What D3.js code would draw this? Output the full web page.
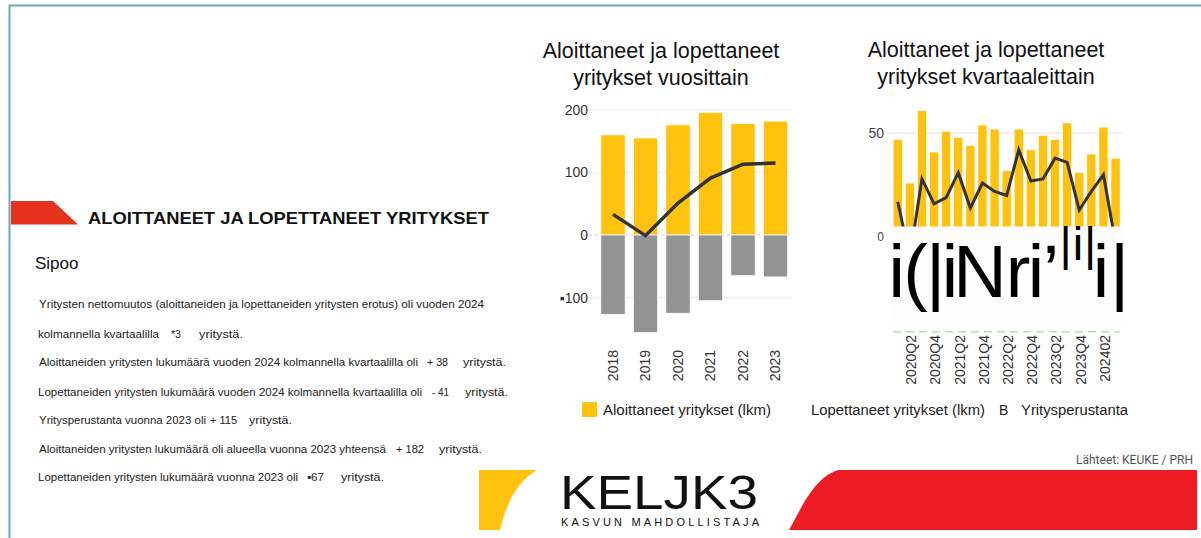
<!DOCTYPE html>
<html>
<head>
<meta charset="utf-8">
<script src="https://cdn.jsdelivr.net/npm/d3@7"></script>
<style>
  body { margin: 0; background: #fff; }
  svg { display: block; font-family: "Liberation Sans", Arial, "DejaVu Sans", sans-serif; }
</style>
</head>
<body>
<svg id="chart" width="1201" height="538"></svg>
<script>
// yearly data (Sipoo)
const years = ["2018", "2019", "2020", "2021", "2022", "2023"]
const yearStarted = [160, 155, 176, 196, 178, 182]
const yearClosed = [-127, -156, -125, -105, -65, -67]
const yearNet = [33, -1, 51, 91, 113, 115]
const yearTicks = [-100, 0, 100, 200]
const yearTickLabels = ["▪100", "0", "100", "200"]

// quarterly data
const quarters = ["2020Q1", "2020Q2", "2020Q3", "2020Q4", "2021Q1", "2021Q2", "2021Q3", "2021Q4",
  "2022Q1", "2022Q2", "2022Q3", "2022Q4", "2023Q1", "2023Q2", "2023Q3", "2023Q4",
  "2024Q1", "2024Q2", "2024Q3"]
const quarterStarted = [47, 26, 61, 41, 51, 48, 44, 54, 52, 32, 52, 42, 49, 47, 55, 31, 40, 53, 38]
const quarterNet = [17, -10, 28, 16, 19, 31, 14, 26, 22, 20, 42, 27, 28, 38, 36, 13, 22, 30, -3]
const quarterTicks = [0, 50]
const quarterTickAt = ["2020Q2", "2020Q4", "2021Q2", "2021Q4", "2022Q2", "2022Q4", "2023Q2", "2023Q4", "2024Q2"]
const quarterTickLabels = ["2020Q2", "2020Q4", "2021Q2", "2021Q4", "2022Q2", "2022Q4", "2023Q2", "2023Q4", "202402"]

const legendLabels = ["Aloittaneet yritykset (lkm)", "Lopettaneet yritykset (lkm)", "B", "Yritysperustanta"]

// summary text on the left: [text, x, width]
const summaryLines = [
  { y: 308, parts: [["Yritysten nettomuutos (aloittaneiden ja lopettaneiden yritysten erotus) oli vuoden 2024", 39, 445]] },
  { y: 337.5, parts: [["kolmannella kvartaalilla", 38, 121], ["*3", 171, 10], ["yritystä.", 199, 44]] },
  { y: 365.5, parts: [["Aloittaneiden yritysten lukumäärä vuoden 2024 kolmannella kvartaalilla oli", 39, 379], ["+ 38", 427, 21], ["yritystä.", 463, 43]] },
  { y: 395.5, parts: [["Lopettaneiden yritysten lukumäärä vuoden 2024 kolmannella kvartaalilla oli", 38, 384], ["- 41", 432, 17], ["yritystä.", 465, 43]] },
  { y: 424, parts: [["Yritysperustanta vuonna 2023 oli", 39, 167], ["+ 115", 210, 27], ["yritystä.", 249, 43]] },
  { y: 453, parts: [["Aloittaneiden yritysten lukumäärä oli alueella vuonna 2023 yhteensä", 39, 347], ["+ 182", 396, 28], ["yritystä.", 439, 43]] },
  { y: 481, parts: [["Lopettaneiden yritysten lukumäärä vuonna 2023 oli", 38, 260], ["▪67", 307, 17], ["yritystä.", 341, 43]] }
]

const YELLOW = "#ffc20f"
const GREY = "#939393"
const LINE = "#333333"

const svg = d3.select("#chart")

// frame
svg.append("path")
  .attr("d", "M9.5,538 V5.5 H1201")
  .attr("fill", "none")
  .attr("stroke", "#6ea8b9")
  .attr("stroke-width", 2)

// ---------- left text block ----------
svg.append("path").attr("d", "M11,201 H53 L78,224.5 H11 Z").attr("fill", "#e5321f")
svg.append("text")
  .attr("x", 88).attr("y", 224)
  .attr("font-size", 17).attr("font-weight", "bold").attr("fill", "#111")
  .attr("textLength", 401).attr("lengthAdjust", "spacingAndGlyphs")
  .text("ALOITTANEET JA LOPETTANEET YRITYKSET")
svg.append("text")
  .attr("x", 35).attr("y", 269)
  .attr("font-size", 17).attr("fill", "#111")
  .text("Sipoo")

summaryLines.forEach(line => {
  line.parts.forEach(([t, x, w]) => {
    svg.append("text")
      .attr("x", x).attr("y", line.y)
      .attr("font-size", 11.3).attr("fill", "#222")
      .attr("textLength", w).attr("lengthAdjust", "spacingAndGlyphs")
      .text(t)
  })
})

// ---------- yearly chart ----------
const gY = svg.append("g")
const xY = d3.scaleBand().domain(years).range([596.75, 791.75]).paddingInner(0.25).paddingOuter(0.125)
const yY = d3.scaleLinear().domain([-100, 200]).range([297.6, 109.8])

gY.append("text").attr("x", 661).attr("y", 58).attr("text-anchor", "middle")
  .attr("font-size", 21.5).attr("fill", "#111").text("Aloittaneet ja lopettaneet")
gY.append("text").attr("x", 661).attr("y", 85).attr("text-anchor", "middle")
  .attr("font-size", 21.5).attr("fill", "#111").text("yritykset vuosittain")

gY.selectAll("line.grid")
  .data(yearTicks.filter(d => d !== 0))
  .enter().append("line")
  .attr("class", "grid")
  .attr("x1", 583).attr("x2", 792)
  .attr("y1", d => yY(d)).attr("y2", d => yY(d))
  .attr("stroke", "#efefef").attr("stroke-width", 1.5)
gY.append("line")
  .attr("x1", 583).attr("x2", 792).attr("y1", yY(0)).attr("y2", yY(0))
  .attr("stroke", "#cfcfcf").attr("stroke-dasharray", "3,3")

gY.selectAll("rect.start")
  .data(yearStarted)
  .enter().append("rect")
  .attr("class", "start")
  .attr("x", (d, i) => xY(years[i]))
  .attr("width", xY.bandwidth())
  .attr("y", d => yY(d))
  .attr("height", d => yY(0) - yY(d))
  .attr("fill", YELLOW).attr("stroke", "#fff").attr("stroke-width", 0.8)
gY.selectAll("rect.stop")
  .data(yearClosed)
  .enter().append("rect")
  .attr("class", "stop")
  .attr("x", (d, i) => xY(years[i]))
  .attr("width", xY.bandwidth())
  .attr("y", yY(0))
  .attr("height", d => yY(d) - yY(0))
  .attr("fill", GREY).attr("stroke", "#fff").attr("stroke-width", 0.8)

gY.append("path")
  .datum(yearNet)
  .attr("d", d3.line().x((d, i) => xY(years[i]) + xY.bandwidth() / 2).y(d => yY(d)))
  .attr("fill", "none").attr("stroke", LINE).attr("stroke-width", 3.5)

const axYL = gY.append("g")
  .attr("transform", "translate(592,0)")
  .call(d3.axisLeft(yY).tickValues(yearTicks).tickFormat((d, i) => yearTickLabels[i]).tickSize(0).tickPadding(4))
axYL.select(".domain").remove()
axYL.selectAll("text").attr("font-size", 14).attr("fill", "#333").attr("font-family", "Liberation Sans, Arial, DejaVu Sans, sans-serif")

const axYB = gY.append("g")
  .attr("transform", "translate(0,350)")
  .call(d3.axisBottom(xY).tickSize(0))
axYB.select(".domain").remove()
axYB.selectAll("text")
  .attr("transform", "rotate(-90)")
  .attr("x", 0).attr("y", 0).attr("dy", "0.35em")
  .attr("text-anchor", "end")
  .attr("font-size", 14).attr("fill", "#333").attr("font-family", "Liberation Sans, Arial, sans-serif")

// ---------- quarterly chart ----------
const gQ = svg.append("g")
const xQ = d3.scaleBand().domain(quarters).range([891.7, 1121.6]).paddingInner(0.25).paddingOuter(0.125)
const yQ = d3.scaleLinear().domain([0, 50]).range([237, 133.3])

gQ.append("text").attr("x", 986).attr("y", 57).attr("text-anchor", "middle")
  .attr("font-size", 21.5).attr("fill", "#111").text("Aloittaneet ja lopettaneet")
gQ.append("text").attr("x", 986).attr("y", 83.5).attr("text-anchor", "middle")
  .attr("font-size", 21.5).attr("fill", "#111").text("yritykset kvartaaleittain")

gQ.append("line")
  .attr("x1", 887).attr("x2", 1122).attr("y1", yQ(50)).attr("y2", yQ(50))
  .attr("stroke", "#efefef").attr("stroke-width", 2)

gQ.selectAll("rect.start")
  .data(quarterStarted)
  .enter().append("rect")
  .attr("class", "start")
  .attr("x", (d, i) => xQ(quarters[i]))
  .attr("width", xQ.bandwidth())
  .attr("y", d => yQ(d))
  .attr("height", d => yQ(0) - yQ(d))
  .attr("fill", YELLOW).attr("stroke", "#fff").attr("stroke-width", 0.6)

gQ.append("path")
  .datum(quarterNet)
  .attr("d", d3.line().x((d, i) => xQ(quarters[i]) + xQ.bandwidth() / 2).y(d => yQ(d)))
  .attr("fill", "none").attr("stroke", LINE).attr("stroke-width", 3)

// pasted-over box with broken glyphs, as in the original image
gQ.append("rect")
  .attr("x", 891).attr("y", 226.5).attr("width", 234).attr("height", 96)
  .attr("fill", "#fdfdfd")
// [glyph, x, baseline, size]
const glyphs = [
  ["i", 896.7, 296.7, 74], ["(", 915.5, 296.7, 74], ["|", 935.5, 296.7, 74], ["i", 950, 296.7, 74],
  ["N", 980, 296.7, 74], ["r", 1018, 296.7, 74], ["i", 1036, 296.7, 74], ["’", 1051, 296.7, 74],
  ["|", 1065.5, 259.5, 47], ["i", 1078, 259.5, 47], ["|", 1090, 259.5, 47],
  ["i", 1101, 296.7, 74], ["|", 1119.7, 296.7, 74]
]
gQ.append("text")
  .attr("font-family", "Liberation Sans Narrow, Arial Narrow, sans-serif")
  .attr("text-anchor", "middle").attr("fill", "#000")
  .selectAll("tspan")
  .data(glyphs)
  .enter().append("tspan")
  .attr("x", d => d[1]).attr("y", d => d[2])
  .attr("font-size", d => d[3])
  .text(d => d[0])

gQ.append("line")
  .attr("x1", 893).attr("x2", 1120).attr("y1", 331.7).attr("y2", 331.7)
  .attr("stroke", "#a4eba4").attr("stroke-width", 1.5).attr("stroke-dasharray", "8,5")

const axQL = gQ.append("g")
  .attr("transform", "translate(888,0)")
  .call(d3.axisLeft(yQ).tickValues(quarterTicks).tickSize(0).tickPadding(4))
axQL.select(".domain").remove()
axQL.selectAll("text")
  .attr("font-size", d => d === 0 ? 12 : 14)
  .attr("fill", "#444").attr("font-family", "Liberation Sans, Arial, sans-serif")

const axQB = gQ.append("g")
  .attr("transform", "translate(1.5,335)")
  .call(d3.axisBottom(xQ).tickValues(quarterTickAt).tickFormat((d, i) => quarterTickLabels[i]).tickSize(0))
axQB.select(".domain").remove()
axQB.selectAll("text")
  .attr("transform", "rotate(-90)")
  .attr("x", 0).attr("y", 0).attr("dy", "0.35em")
  .attr("text-anchor", "end")
  .attr("font-size", 14).attr("fill", "#333").attr("font-family", "Liberation Sans, Arial, sans-serif")

// ---------- legend ----------
const legend = svg.append("g")
legend.append("rect").attr("x", 582).attr("y", 402).attr("width", 15).attr("height", 15).attr("fill", YELLOW)
const legendPos = [[603, 168], [811, 174], [999, 0], [1021, 107]]
legend.selectAll("text")
  .data(legendLabels)
  .enter().append("text")
  .attr("x", (d, i) => legendPos[i][0]).attr("y", 415)
  .attr("font-size", 14).attr("fill", "#222")
  .each(function (d, i) {
    if (legendPos[i][1]) d3.select(this).attr("textLength", legendPos[i][1]).attr("lengthAdjust", "spacingAndGlyphs")
  })
  .text(d => d)

// source
svg.append("text")
  .attr("x", 1193).attr("y", 464).attr("text-anchor", "end")
  .attr("font-size", 12).attr("fill", "#555").attr("font-family", "Roboto, sans-serif")
  .text("Lähteet: KEUKE / PRH")

// ---------- footer logo ----------
svg.append("path")
  .attr("d", "M479,470 H537 C516,482 506,505 500,530 H479 Z")
  .attr("fill", YELLOW)
const logo = svg.append("text").attr("fill", "#111")
logo.append("tspan")
  .attr("x", 560).attr("y", 509)
  .attr("font-size", 49)
  .attr("font-family", "Liberation Sans Narrow, Arial Narrow, sans-serif")
  .attr("textLength", 198).attr("lengthAdjust", "spacingAndGlyphs")
  .text("KELJK3")
logo.append("tspan")
  .attr("x", 561).attr("y", 526)
  .attr("font-size", 11)
  .attr("textLength", 198).attr("lengthAdjust", "spacing")
  .text("KASVUN MAHDOLLISTAJA")
svg.append("path")
  .attr("d", "M838,470 H1197 V530 H789 C803,505 814,478 838,470 Z")
  .attr("fill", "#ed1c24")
</script>
</body>
</html>
